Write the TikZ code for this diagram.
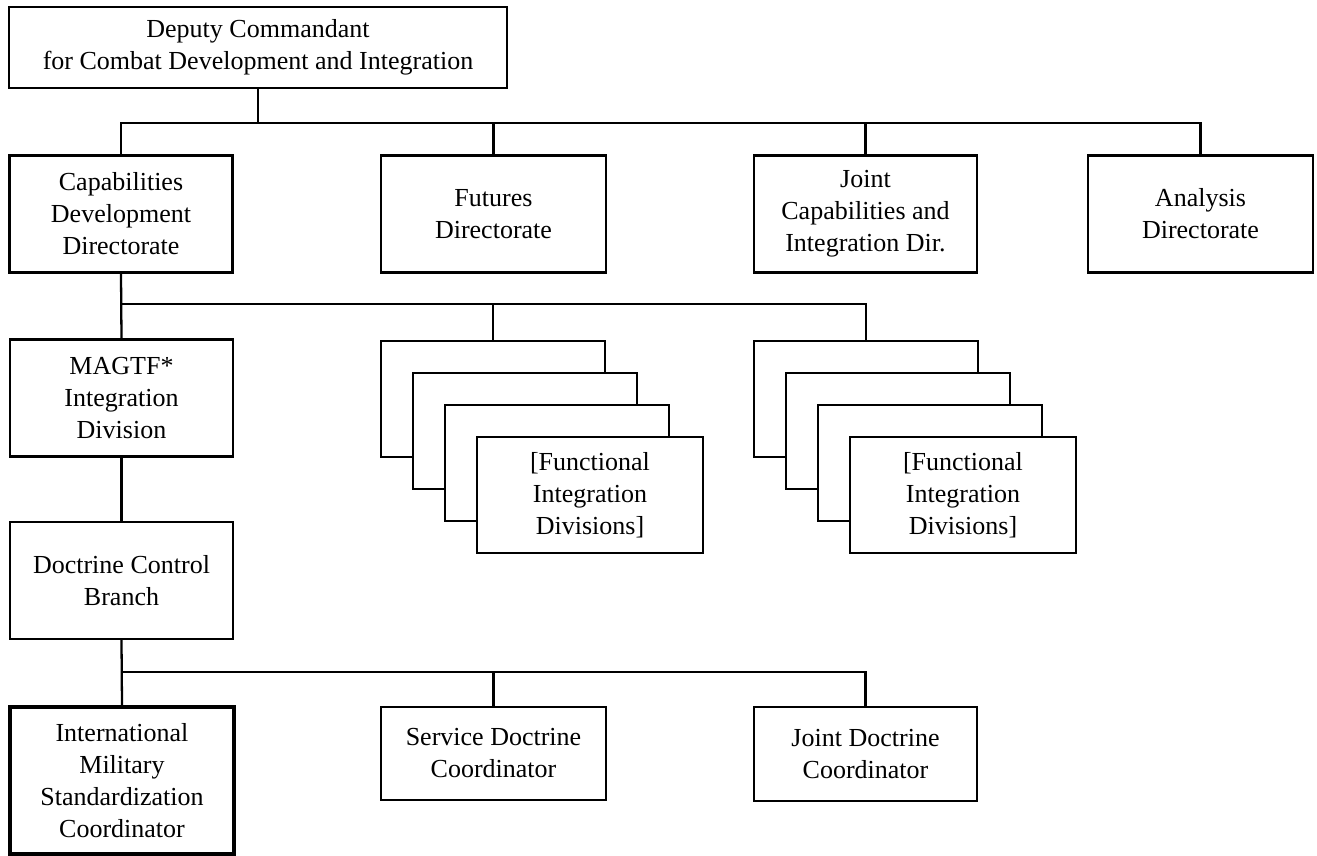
\documentclass[tikz,border=0pt]{standalone}
\usepackage{fontspec}
\setmainfont{Liberation Serif}
\usepackage{tikz}

\begin{document}
\begin{tikzpicture}[
    box/.style={draw, line width=1.3pt, fill=white, align=center, inner sep=2pt,
      minimum width=4.46cm, minimum height=2.34cm,
      font=\fontsize{14.8}{18.2}\selectfont},
    wire/.style={line width=1.3pt}]
          \useasboundingbox (0,0) rectangle (26.34,-17.12);
          % top
          \node[box, minimum width=9.96cm, minimum height=1.62cm] (dc) at (5.16,-0.95) {Deputy Commandant\\for Combat Development and Integration};
          % directorates
          \node[box] (cdd) at (2.42,-4.28) {Capabilities\\Development\\Directorate};
          \node[box, minimum width=4.5cm] (fut) at (9.87,-4.28) {Futures\\Directorate};
          \node[box] (jcid) at (17.31,-4.28) {Joint\\Capabilities and\\Integration Dir.};
          \node[box, minimum width=4.5cm] (ana) at (24.01,-4.28) {Analysis\\Directorate};
          \coordinate (bus1) at (0,-2.46);
          \draw[wire] (dc.south) -- (dc.south |- bus1);
          \draw[wire] (cdd.north) -- (cdd.north |- bus1) -- (ana.north |- bus1) -- (ana.north);
          \draw[wire] (fut.north) -- (fut.north |- bus1);
          \draw[wire] (jcid.north) -- (jcid.north |- bus1);
          % divisions
          \node[box] (magtf) at (2.43,-7.96) {MAGTF*\\Integration\\Division};
          \foreach \k in {0,1,2} {
            \node[box, minimum width=4.48cm, minimum height=2.32cm] (fa\k) at (9.86+0.64*\k,-7.98-0.64*\k) {};
            \node[box, minimum width=4.48cm, minimum height=2.32cm] (fb\k) at (17.32+0.64*\k,-7.98-0.64*\k) {};
          }
          \node[box, minimum width=4.52cm, minimum height=2.32cm] (fa) at (11.8,-9.9) {[Functional\\Integration\\Divisions]};
          \node[box, minimum width=4.52cm, minimum height=2.32cm] (fb) at (19.26,-9.9) {[Functional\\Integration\\Divisions]};
          \coordinate (bus2) at (0,-6.08);
          \draw[wire] (cdd.south) -- (magtf.north);
          \draw[wire] (cdd.south |- bus2) -- (fb0.north |- bus2) -- (fb0.north);
          \draw[wire] (fa0.north) -- (fa0.north |- bus2);
          % doctrine
          \node[box] (dcb) at (2.43,-11.61) {Doctrine Control\\Branch};
          \draw[wire] (magtf.south) -- (dcb.north);
          \node[box, line width=2.2pt, minimum width=4.48cm, minimum height=2.94cm] (imsc) at (2.44,-15.61) {International\\Military\\Standardization\\Coordinator};
          \node[box, minimum width=4.5cm, minimum height=1.86cm] (sdc) at (9.87,-15.07) {Service Doctrine\\Coordinator};
          \node[box, minimum height=1.88cm] (jdc) at (17.31,-15.08) {Joint Doctrine\\Coordinator};
          \coordinate (bus3) at (0,-13.44);
          \draw[wire] (dcb.south) -- (imsc.north);
          \draw[wire] (dcb.south |- bus3) -- (jdc.north |- bus3) -- (jdc.north);
          \draw[wire] (sdc.north) -- (sdc.north |- bus3);
        \end{tikzpicture}
\end{document}
